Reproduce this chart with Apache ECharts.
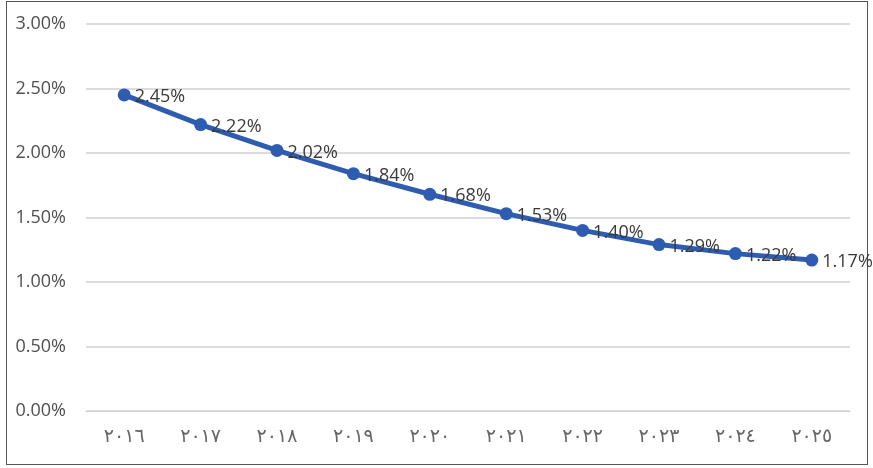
<!DOCTYPE html>
<html><head><meta charset="utf-8">
<script src="https://cdn.jsdelivr.net/npm/echarts@6/dist/echarts.min.js"></script>
<style>
html,body{margin:0;padding:0;background:#fff;}
#frame{position:absolute;left:6px;top:1px;width:862px;height:464px;border:1px solid #555;box-sizing:border-box;}
#c{position:absolute;left:0;top:0;width:873px;height:468px;}
</style></head>
<body>
<div id="frame"></div>
<div id="c"></div>
<script>
const categories = ['٢٠١٦','٢٠١٧','٢٠١٨','٢٠١٩','٢٠٢٠','٢٠٢١','٢٠٢٢','٢٠٢٣','٢٠٢٤','٢٠٢٥'];
const values = [2.45, 2.22, 2.02, 1.84, 1.68, 1.53, 1.40, 1.29, 1.22, 1.17];
const yTicks = [0, 0.5, 1, 1.5, 2, 2.5, 3];

const chart = echarts.init(document.getElementById('c'));
chart.setOption({
  animation: false,
  grid: {left: 86, right: 23, top: 24, bottom: 57},
  xAxis: {
    type: 'category', data: categories, boundaryGap: true,
    axisLine: {show: true, lineStyle: {color: '#d0d0d0'}},
    axisTick: {show: false},
    axisLabel: {margin: 17, color: '#666666', fontSize: 19, fontFamily: 'DejaVu Sans'}
  },
  yAxis: {
    type: 'value', min: 0, max: 3, interval: 0.5,
    axisLine: {show: false}, axisTick: {show: false},
    splitLine: {lineStyle: {color: '#d0d0d0', width: 1.5}},
    axisLabel: {margin: 20, color: '#505050', fontSize: 18, fontFamily: 'Open Sans',
      formatter: v => v.toFixed(2) + '%'}
  },
  series: [{
    type: 'line', data: values,
    lineStyle: {color: '#2e5cb0', width: 5},
    itemStyle: {color: '#2e5cb0'},
    symbol: 'circle', symbolSize: 13,
    label: {show: true, position: 'right', distance: 4, offset: [0, 2],
      color: '#3a3a3a', fontSize: 18, fontFamily: 'Open Sans',
      formatter: p => p.value.toFixed(2) + '%'}
  }]
});
</script>
</body></html>
